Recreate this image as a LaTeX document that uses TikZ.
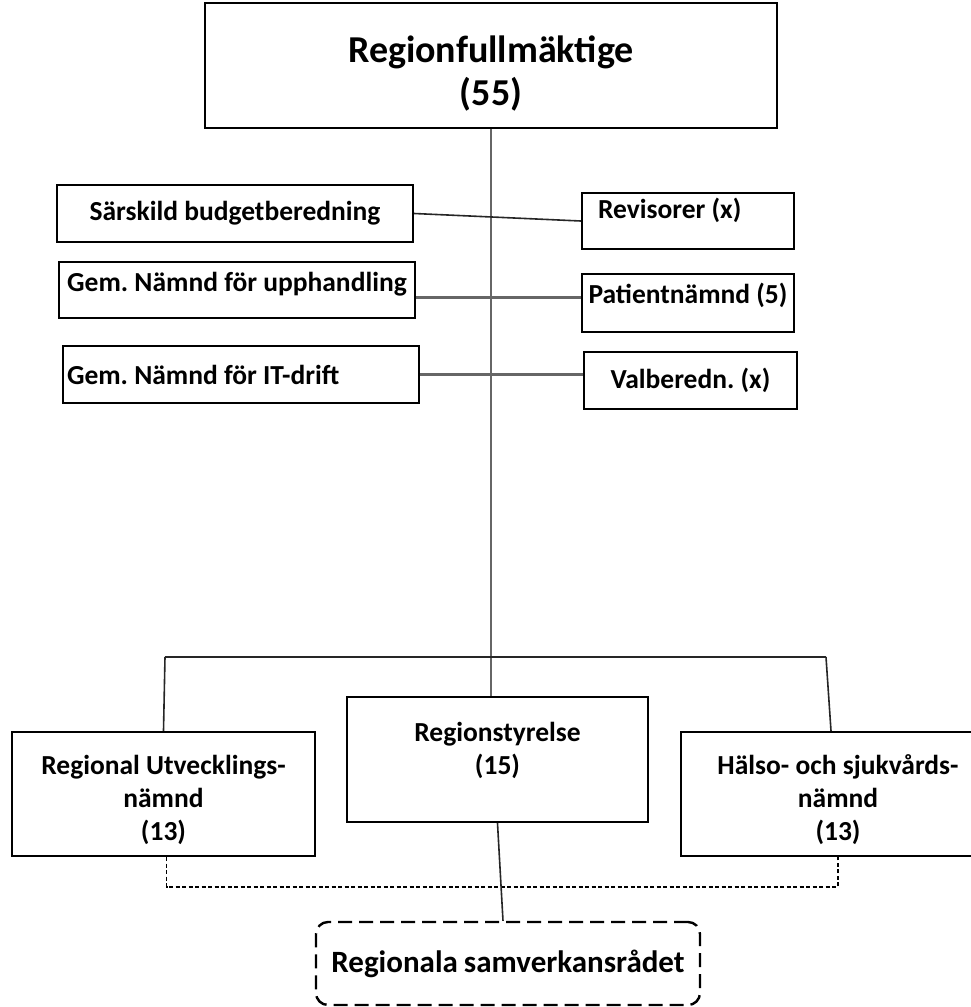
\documentclass[tikz,border=0pt]{standalone}
\usepackage{fontspec}
\setmainfont{Carlito}
\frenchspacing
\usetikzlibrary{positioning}

\begin{document}
\begin{tikzpicture}[x=1pt, y=-1pt,
    box/.style={draw=black, line width=2.4pt, inner sep=0pt, align=center,
                font=\fontsize{27.5}{33}\selectfont\bfseries},
    trunk/.style={draw=black!60, line width=2pt},
    link/.style={draw=black!85, line width=1.6pt},
    bar/.style={draw=black!60, line width=3pt},
    bus/.style={draw=black, line width=1.6pt, dash pattern=on 4pt off 2.5pt}]

    \useasboundingbox (0,0) rectangle (971,1007);

    % Top
    \node[box, font=\fontsize{38}{43}\selectfont\bfseries, minimum width=572pt, minimum height=125pt, text height=85pt] (rf) at (491,65.5) {Regionfullmäktige\\(55)};

    % Left column
    \node[box, minimum width=356pt, minimum height=57pt] (sbb) at (235,213.5) {Särskild budgetberedning};
    \node[box, minimum width=356pt, minimum height=56pt, text depth=17pt] (upph) at (237,290) {Gem. Nämnd för upphandling};
    \node[box, minimum width=356pt, minimum height=57pt, text width=348pt, align=flush left] (itd) at (241,374.5) {Gem. Nämnd för IT-drift};

    % Right column
    \node[box, minimum width=212pt, minimum height=56pt, text width=180pt, align=flush left, text depth=25pt] (rev) at (688,221) {Revisorer (x)};
    \node[box, minimum width=212pt, minimum height=58pt, text depth=20pt] (pat) at (688,303) {Patientnämnd (5)};
    \node[box, minimum width=213pt, minimum height=57pt] (valb) at (690.5,380.5) {Valberedn. (x)};

    % Bottom row
    \node[box, minimum width=303pt, minimum height=124pt, text height=98pt] (run) at (163.5,794) {Regional Utvecklings-\\nämnd\\(13)};
    \node[box, minimum width=301pt, minimum height=125pt, text depth=22pt] (rs) at (497.5,759.5) {Regionstyrelse\\(15)};
    \node[box, minimum width=314pt, minimum height=124pt, text height=98pt] (hsn) at (838,794) {Hälso- och sjukvårds-\\nämnd\\(13)};
    \node[box, dash pattern=on 14pt off 7pt, rounded corners=12pt, font=\fontsize{31}{37}\selectfont\bfseries, minimum width=384pt, minimum height=83pt] (rsr) at (508,963.5) {Regionala\kern-1pt\ samverkansrådet};

    \draw[trunk] (rf.south) -- (rf.south |- rs.north);

    \draw[link] (sbb.east) -- (rev.west);
    \draw[bar] ([yshift=-7pt]upph.east) -- ([yshift=6pt]pat.west);
    \draw[bar] (itd.east) -- (itd.east -| valb.west);

    % Bracket
    \coordinate (bl) at (165,657);
    \coordinate (br) at (826,657);
    \draw[link] (bl) -- (br);
    \draw[link] (bl) -- (run.north);
    \draw[link] (br) -- ([xshift=-7pt]hsn.north);

    \coordinate (dl) at (0,887);
    \draw[bus] ([xshift=3pt]run.south) |- (dl -| hsn.south) -- (hsn.south);
    \draw[link] (rs.south) -- ([xshift=-5pt]rsr.north);

\end{tikzpicture}
\end{document}
